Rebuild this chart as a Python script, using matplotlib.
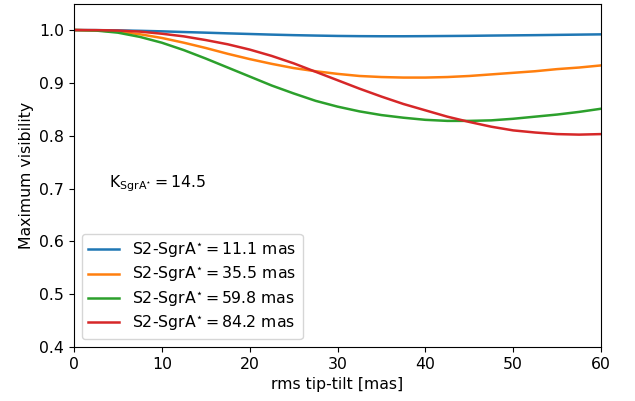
import numpy as np
import matplotlib
matplotlib.use('Agg')
import matplotlib.pyplot as plt

plt.rcParams['mathtext.default'] = 'regular'
plt.rcParams['font.size'] = 11.3

tiptilt = [0, 2.5, 5, 7.5, 10, 12.5, 15, 17.5, 20, 22.5, 25, 27.5, 30,
           32.5, 35, 37.5, 40, 42.5, 45, 47.5, 50, 52.5, 55, 57.5, 60]

vis_11 = [1.0, 0.9998, 0.9993, 0.9985, 0.9975, 0.9962, 0.995, 0.9937, 0.9925, 0.9913, 0.9903, 0.9895, 0.9888,
          0.9884, 0.9882, 0.9882, 0.9884, 0.9887, 0.989, 0.9895, 0.9899, 0.9903, 0.9908, 0.9913, 0.9918]
vis_35 = [1.0, 0.9993, 0.997, 0.992, 0.985, 0.976, 0.966, 0.955, 0.945, 0.936, 0.928, 0.922, 0.917,
          0.913, 0.911, 0.910, 0.910, 0.911, 0.913, 0.916, 0.919, 0.922, 0.926, 0.929, 0.933]
vis_59 = [1.0, 0.999, 0.995, 0.987, 0.976, 0.962, 0.946, 0.929, 0.912, 0.895, 0.880, 0.866, 0.855,
          0.846, 0.839, 0.834, 0.830, 0.828, 0.828, 0.829, 0.832, 0.836, 0.840, 0.845, 0.851]
vis_84 = [1.0, 0.9998, 0.999, 0.997, 0.993, 0.988, 0.981, 0.973, 0.963, 0.951, 0.937, 0.921, 0.905,
          0.889, 0.874, 0.860, 0.848, 0.836, 0.826, 0.817, 0.810, 0.806, 0.803, 0.802, 0.803]

separations = ['11.1', '35.5', '59.8', '84.2']

fig = plt.figure(figsize=(6.35, 4.01), dpi=100)
ax = fig.add_axes([0.1165, 0.1347, 0.83, 0.8563])

for vis, sep in zip([vis_11, vis_35, vis_59, vis_84], separations):
    ax.plot(tiptilt, vis, lw=1.8, label=r'S2-SgrA$^{\star} = %s$ mas' % sep)

ax.text(4, 0.71, r'K$_{SgrA^{\star}} = 14.5$', va='center')

ax.set_xlim(0, 60)
ax.set_ylim(0.4, 1.05)
ax.set_xlabel('rms tip-tilt [mas]')
ax.set_ylabel('Maximum visibility')
ax.legend(loc='lower left', labelspacing=0.3)

fig.savefig('out.png', dpi=100)
